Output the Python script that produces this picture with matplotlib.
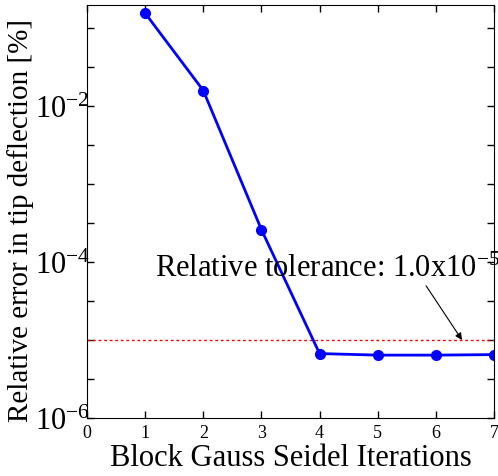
import matplotlib
matplotlib.use("Agg")
import matplotlib.pyplot as plt
import numpy as np

plt.rcParams['font.family'] = ['Liberation Serif', 'DejaVu Serif']
plt.rcParams['mathtext.fontset'] = 'custom'
plt.rcParams['mathtext.rm'] = 'Liberation Serif'
plt.rcParams['mathtext.it'] = 'Liberation Serif:italic'

iterations = [1, 2, 3, 4, 5, 6, 7]
rel_error = [0.155, 0.0158, 2.6e-4, 6.7e-6, 6.4e-6, 6.4e-6, 6.5e-6]
tolerance = 1.0e-5
x_ticks = [0, 1, 2, 3, 4, 5, 6, 7]
y_major = [1e-6, 1e-4, 1e-2]
y_major_labels = ['$10^{-6}$', '$10^{-4}$', '$10^{-2}$']

fig = plt.figure(figsize=(4.98, 4.77), dpi=100)
ax = fig.add_axes([87/498, 1-419/477, (494-87)/498, (419-6)/477])

ax.set_yscale('log')
ax.axhline(tolerance, color='red', linestyle=(0, (2, 2)), linewidth=1.0)
ax.plot(iterations, rel_error, color='blue', linewidth=2, marker='o', markersize=7)

ax.set_xlim(0, 7)
ax.set_ylim(1e-6, 10**-0.705)
ax.set_xticks(x_ticks)
ax.set_xticklabels([str(t) for t in x_ticks], fontsize=13)
ax.set_yticks(y_major)
ax.set_yticklabels(y_major_labels, fontsize=22)
half = [10**e for e in np.arange(-5.5, -0.5, 0.5) if e not in (-4, -2)]
ax.yaxis.set_minor_locator(matplotlib.ticker.FixedLocator(half))
ax.yaxis.set_minor_formatter(matplotlib.ticker.NullFormatter())
ax.tick_params(which='both', direction='in', top=True, right=True, length=5, width=1)
ax.tick_params(axis='y', pad=-2)
ax.tick_params(axis='x', pad=4)

ax.set_xlabel('Block Gauss Seidel Iterations', fontsize=22, labelpad=2)
ax.set_ylabel('Relative error in tip deflection [%]', fontsize=21)
ax.yaxis.set_label_coords(-0.13, 0.48)

ax.annotate('Relative tolerance: 1.0x10$^{-5}$', xy=(6.45, tolerance), xytext=(1.17, 10**-4.18),
            fontsize=22, annotation_clip=False,
            arrowprops=dict(arrowstyle='-|>', color='black', lw=0.8, shrinkA=0, shrinkB=0,
                            mutation_scale=10, relpos=(0.78, 0.0)))

fig.savefig('out.png', dpi=100)
